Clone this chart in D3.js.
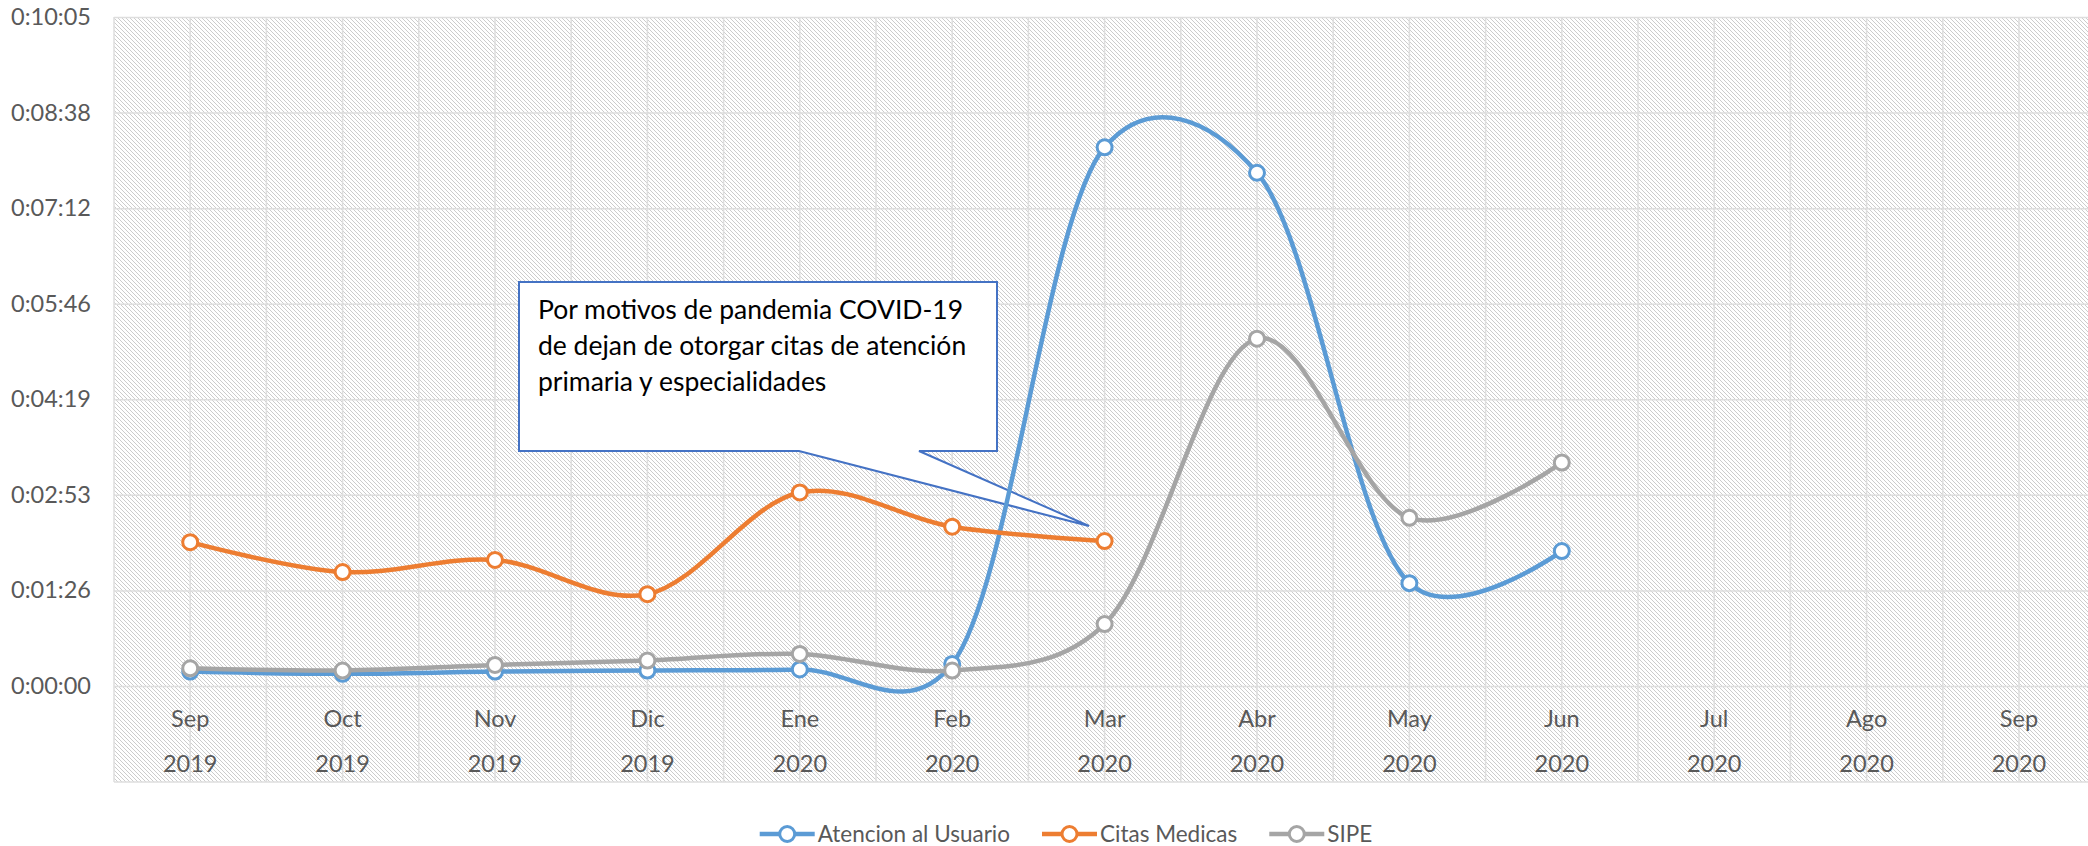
<!DOCTYPE html>
<html>
<head>
<meta charset="utf-8">
<script src="https://cdn.jsdelivr.net/npm/d3@7/dist/d3.min.js"></script>
<style>
  body { margin: 0; background: #fff; }
  svg text { font-family: Lato, "Open Sans", sans-serif; }
</style>
</head>
<body>
<script>
// months / years of the two-level category axis
var meses = ["Sep", "Oct", "Nov", "Dic", "Ene", "Feb", "Mar", "Abr", "May", "Jun", "Jul", "Ago", "Sep"];
var anios = ["2019", "2019", "2019", "2019", "2020", "2020", "2020", "2020", "2020", "2020", "2020", "2020", "2020"];

// durations in seconds
var atencion = [13, 11, 13, 14, 15, 20, 487, 464, 93, 122];
var citas = [130, 103, 114, 83, 175, 144, 131];
var sipe = [16, 14, 19, 23, 29, 14, 56, 314, 152, 202];

var tickLabels = ["0:00:00", "0:01:26", "0:02:53", "0:04:19", "0:05:46", "0:07:12", "0:08:38", "0:10:05"];
var tickStep = 86.4; // 0.001 day

var nota = ["Por motivos de pandemia COVID-19", "de dejan de otorgar citas de atención", "primaria y especialidades"];

var W = 2088, H = 846;
var plotLeft = 114, plotTop = 17, zeroY = 686, axisBottom = 782;
var catW = 152.4;
var plotW = catW * meses.length;

var svg = d3.select("body").append("svg")
  .attr("width", W)
  .attr("height", H);

var defs = svg.append("defs");
var pat = defs.append("pattern")
  .attr("id", "hatch")
  .attr("width", 4)
  .attr("height", 4)
  .attr("patternUnits", "userSpaceOnUse");
pat.append("rect").attr("width", 4).attr("height", 4).attr("fill", "#fff");
[0, 1, 2, 3].forEach(function(k) {
  pat.append("rect").attr("x", k).attr("y", k).attr("width", 1).attr("height", 1).attr("fill", "#cccccc");
});

var x = d3.scaleBand()
  .domain(d3.range(meses.length))
  .range([plotLeft, plotLeft + plotW])
  .padding(0);
var xc = function(i) { return x(i) + x.bandwidth() / 2; };

var y = d3.scaleLinear()
  .domain([0, tickStep * 7])
  .range([zeroY, plotTop]);

// plot background (hatched)
svg.append("rect")
  .attr("x", plotLeft)
  .attr("y", plotTop)
  .attr("width", plotW)
  .attr("height", axisBottom - plotTop)
  .attr("fill", "url(#hatch)");

// vertical grid: band edges and centres
var vx = [];
d3.range(meses.length).forEach(function(i) { vx.push(x(i)); vx.push(xc(i)); });
svg.append("g").selectAll("line").data(vx).join("line")
  .attr("x1", function(d) { return d; })
  .attr("x2", function(d) { return d; })
  .attr("y1", plotTop)
  .attr("y2", axisBottom)
  .attr("stroke", "#dedede")
  .attr("stroke-width", 1.5);

// y axis with horizontal grid
var yAxis = d3.axisLeft(y)
  .tickValues(d3.range(tickLabels.length).map(function(i) { return i * tickStep; }))
  .tickFormat(function(d, i) { return tickLabels[i]; })
  .tickSize(-plotW)
  .tickPadding(23);
var gy = svg.append("g")
  .attr("transform", "translate(" + plotLeft + ",0)")
  .call(yAxis);
gy.select(".domain").remove();
gy.selectAll(".tick line").attr("stroke", "#dedede").attr("stroke-width", 1.5);
gy.selectAll(".tick text")
  .attr("fill", "#595959")
  .style("font-size", "23.5px");

svg.append("line")
  .attr("x1", plotLeft).attr("x2", plotLeft + plotW)
  .attr("y1", axisBottom).attr("y2", axisBottom)
  .attr("stroke", "#dedede").attr("stroke-width", 1.5);

// category labels
var gx = svg.append("g");
gx.selectAll("text.mes").data(meses).join("text")
  .attr("class", "mes")
  .attr("x", function(d, i) { return xc(i); })
  .attr("y", 727)
  .attr("text-anchor", "middle")
  .attr("fill", "#595959")
  .style("font-size", "23.5px")
  .text(function(d) { return d; });
gx.selectAll("text.anio").data(anios).join("text")
  .attr("class", "anio")
  .attr("x", function(d, i) { return xc(i); })
  .attr("y", 772)
  .attr("text-anchor", "middle")
  .attr("fill", "#595959")
  .style("font-size", "23.5px")
  .text(function(d) { return d; });

// callout
var bx0 = 519, by0 = 282, bx1 = 997, by1 = 451;
var tip = [1089, 526];
var callout = d3.path();
callout.moveTo(bx0, by0);
callout.lineTo(bx1, by0);
callout.lineTo(bx1, by1);
callout.lineTo(919, by1);
callout.lineTo(tip[0], tip[1]);
callout.lineTo(799, by1);
callout.lineTo(bx0, by1);
callout.closePath();
svg.append("path")
  .attr("d", callout.toString())
  .attr("fill", "#fff")
  .attr("stroke", "#4472C4")
  .attr("stroke-width", 2);
svg.append("g").selectAll("text").data(nota).join("text")
  .attr("x", 538)
  .attr("y", function(d, i) { return 319 + i * 36; })
  .attr("fill", "#000")
  .style("font-size", "26.5px")
  .text(function(d) { return d; });

// series
var series = [
  { name: "Atencion al Usuario", values: atencion, color: "#5B9BD5" },
  { name: "Citas Medicas", values: citas, color: "#ED7D31" },
  { name: "SIPE", values: sipe, color: "#A5A5A5" }
];

var line = d3.line()
  .x(function(d, i) { return xc(i); })
  .y(function(d) { return y(d); })
  .curve(d3.curveCatmullRom.alpha(0.2));

series.forEach(function(s) {
  var g = svg.append("g");
  g.append("path")
    .attr("d", line(s.values))
    .attr("fill", "none")
    .attr("stroke", s.color)
    .attr("stroke-width", 4.5)
    .attr("stroke-linecap", "round");
  g.selectAll("circle").data(s.values).join("circle")
    .attr("cx", function(d, i) { return xc(i); })
    .attr("cy", function(d) { return y(d); })
    .attr("r", 7.5)
    .attr("fill", "#fff")
    .attr("stroke", s.color)
    .attr("stroke-width", 3);
});

// legend
var lg = svg.append("g").attr("transform", "translate(0,834)");
var items = lg.selectAll("g").data(series).join("g");
items.append("text")
  .attr("x", 58)
  .attr("y", 8)
  .attr("fill", "#595959")
  .style("font-size", "22.5px")
  .text(function(d) { return d.name; });
items.append("line")
  .attr("x1", 0).attr("x2", 55)
  .attr("stroke", function(d) { return d.color; })
  .attr("stroke-width", 4.5);
items.append("circle")
  .attr("cx", 27.5)
  .attr("r", 7.5)
  .attr("fill", "#fff")
  .attr("stroke", function(d) { return d.color; })
  .attr("stroke-width", 3);
var widths = [];
items.each(function() { widths.push(this.getBBox().width); });
var gap = 32;
var total = d3.sum(widths) + gap * (widths.length - 1);
var pos = 1066 - total / 2;
items.attr("transform", function(d, i) {
  var p = pos;
  pos += widths[i] + gap;
  return "translate(" + p + ",0)";
});
</script>
</body>
</html>
